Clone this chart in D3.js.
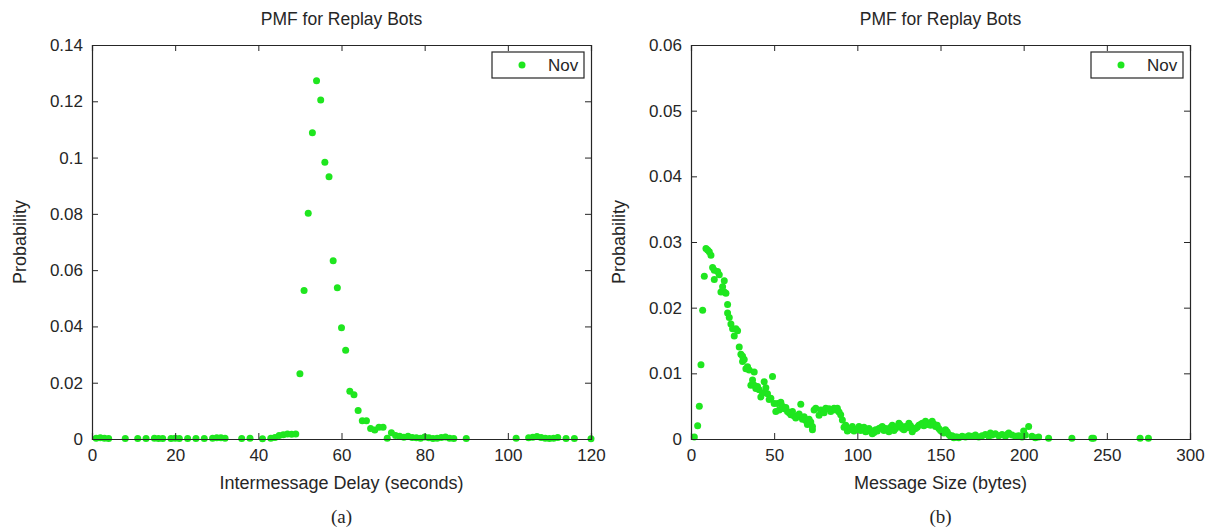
<!DOCTYPE html>
<html>
<head>
<meta charset="utf-8">
<script src="https://cdn.jsdelivr.net/npm/d3@7"></script>
<style>
  html, body { margin: 0; padding: 0; background: #fff; }
  svg { display: block; }
  text { fill: #262626; }
</style>
</head>
<body>
<svg id="chart" width="1210" height="527"></svg>
<script>
// ---- Data: panel (a) ----
const delayX = [1,2,3,4,8,11,13,15,16,17,19,20,21,23,25,27,29,30,31,32,36,38,41,43,44,45,46,47,48,49,
  50,51,52,53,54,55,56,57,58,59,60,61,62,63,64,65,66,67,68,69,70,71,72,73,74,75,76,77,78,79,80,81,82,83,84,85,86,87,90,
  102,105,106,107,108,109,110,111,112,114,116,120];
const delayP = [0.0003,0.0004,0.0003,0.0002,0.0002,0.0002,0.0002,0.0003,0.0002,0.0002,0.0002,0.0003,0.0002,0.0002,0.0002,0.0002,0.0003,0.0004,0.0004,0.0003,0.0002,0.0003,0.0001,0.0003,0.0005,0.0012,0.0015,0.0018,0.0017,0.0018,
  0.0232,0.0528,0.0802,0.1088,0.1273,0.1205,0.0983,0.0932,0.0633,0.0537,0.0395,0.0315,0.0170,0.0157,0.0101,0.0065,0.0065,0.0037,0.0032,0.0042,0.0042,0.0003,0.0022,0.0012,0.0010,0.0006,0.0010,0.0005,0.0004,0.0003,0.0007,0.0004,0.0002,0.0003,0.0005,0.0007,0.0003,0.0002,0.0002,
  0.0003,0.0004,0.0006,0.0009,0.0005,0.0003,0.0002,0.0003,0.0005,0.0002,0.0002,0.0001];
const delayXTicks = [0,20,40,60,80,100,120];
const delayYTicks = [0,0.02,0.04,0.06,0.08,0.1,0.12,0.14];

// ---- Data: panel (b) ----
const sizeX = [2,4,5,6,7,8,9,10,11,12,13,14,14,16,17,18,20,20,21,22,22,24,25,26,27,28,29,30,31,31,32,33,34,35,36,38,38,40,41,42,44,46,47,49,50,51,52,53,54,56,58,60,62,64,66,67,68,69,72,73,73,74,75,78,81,84,86,88,90,91,93,95,97,99,101,103,105,107,109,111,113,115,117,119,121,123,125,127,129,131,133,135,137,139,141,143,145,147,149,151,153,155,157,159,161,163,165,167,169,171,173,175,177,179,181,183,185,187,189,191,193,195,197,199,201,203,205,207,209,215,229,241,242,270,275,
  19,23,37,39,43,45,48,55,57,59,61,63,65,70,71,77,80,83,87,89,92,94,96,98,100,102,104,106,108,110,112,114,116,118,120,122,124,126,128,130,132,134,136,138,140,142,144,146,148,150,152,154,156,158,160,170,180,190,200];
const sizeP = [0.0003,0.0020,0.0050,0.0113,0.0196,0.0248,0.0290,0.0288,0.0285,0.0280,0.0261,0.0243,0.0257,0.0255,0.0250,0.0224,0.0241,0.0224,0.0222,0.0192,0.0205,0.0175,0.0168,0.0157,0.0168,0.0165,0.0140,0.0129,0.0118,0.0126,0.0121,0.0107,0.0110,0.0105,0.0082,0.0102,0.0082,0.0080,0.0075,0.0064,0.0087,0.0069,0.0060,0.0095,0.0054,0.0042,0.0054,0.0044,0.0056,0.0046,0.0042,0.0037,0.0035,0.0035,0.0053,0.0030,0.0034,0.0028,0.0026,0.0014,0.0019,0.0044,0.0047,0.0044,0.0047,0.0042,0.0047,0.0047,0.0037,0.0029,0.0021,0.0014,0.0019,0.0014,0.0019,0.0016,0.0011,0.0016,0.0008,0.0014,0.0016,0.0019,0.0016,0.0011,0.0021,0.0016,0.0024,0.0016,0.0019,0.0024,0.0011,0.0016,0.0021,0.0024,0.0027,0.0024,0.0027,0.0019,0.0016,0.0011,0.0014,0.0007,0.0005,0.0003,0.0002,0.0004,0.0003,0.0005,0.0004,0.0006,0.0003,0.0005,0.0007,0.0004,0.0006,0.0008,0.0005,0.0007,0.0004,0.0009,0.0006,0.0004,0.0005,0.0003,0.0006,0.0019,0.0004,0.0002,0.0003,0.0001,0.0001,0.0001,0.0001,0.0001,0.0001,
  0.0232,0.0185,0.0090,0.0077,0.0070,0.0078,0.0062,0.0050,0.0048,0.0040,0.0042,0.0032,0.0038,0.0022,0.0030,0.0036,0.0040,0.0046,0.0044,0.0041,0.0018,0.0012,0.0016,0.0012,0.0015,0.0013,0.0018,0.0012,0.0013,0.0010,0.0012,0.0017,0.0013,0.0015,0.0018,0.0013,0.0019,0.0021,0.0014,0.0017,0.0020,0.0015,0.0018,0.0022,0.0020,0.0022,0.0021,0.0023,0.0021,0.0013,0.0009,0.0011,0.0004,0.0002,0.0003,0.0004,0.0009,0.0007,0.0012];
const sizeXTicks = [0,50,100,150,200,250,300];
const sizeYTicks = [0,0.01,0.02,0.03,0.04,0.05,0.06];

const titleText = "PMF for Replay Bots";
const legendLabel = "Nov";

const svg = d3.select("#chart");
const GREEN = "#1fe61f";
const AXIS = "#262626";
const SANS = '"Liberation Sans", Arial, sans-serif';
const SERIF = '"Liberation Serif", "Times New Roman", serif';

function panel(opts) {
  const {left, right, top, bottom, xs, ys, xDomain, yDomain, xTicks, yTicks, xLabel, caption} = opts;
  const x = d3.scaleLinear().domain(xDomain).range([left, right]);
  const y = d3.scaleLinear().domain(yDomain).range([bottom, top]);
  const g = svg.append("g");
  const fmt = d => d === 0 ? "0" : String(+d.toFixed(4));
  const tl = 6;

  g.append("g").selectAll("circle").data(xs.map((d,i)=>[d, ys[i]])).join("circle")
    .attr("cx", d => x(d[0])).attr("cy", d => y(d[1])).attr("r", 3.5).attr("fill", GREEN);

  const bx = g.append("g").attr("transform", `translate(0,${bottom})`)
    .call(d3.axisBottom(x).tickValues(xTicks).tickSize(-tl).tickPadding(10).tickFormat(fmt));
  const tx = g.append("g").attr("transform", `translate(0,${top})`)
    .call(d3.axisTop(x).tickValues(xTicks).tickSize(-tl).tickFormat(""));
  const ly = g.append("g").attr("transform", `translate(${left},0)`)
    .call(d3.axisLeft(y).tickValues(yTicks).tickSize(-tl).tickPadding(9).tickFormat(fmt));
  const ry = g.append("g").attr("transform", `translate(${right},0)`)
    .call(d3.axisRight(y).tickValues(yTicks).tickSize(-tl).tickFormat(""));
  [bx, tx, ly, ry].forEach(a => {
    a.selectAll("path.domain").attr("stroke", AXIS).attr("stroke-width", 1.2);
    a.selectAll(".tick line").attr("stroke", AXIS).attr("stroke-width", 1);
    a.selectAll(".tick text").attr("font-size", 17).attr("font-family", SANS).attr("fill", AXIS);
  });
  g.append("text").attr("x", (left+right)/2).attr("y", 25).attr("text-anchor", "middle")
    .attr("font-family", SANS).attr("font-size", 17.5).text(titleText);
  g.append("text").attr("x", (left+right)/2).attr("y", 489).attr("text-anchor", "middle")
    .attr("font-family", SANS).attr("font-size", 18).text(xLabel);
  g.append("text").attr("transform", `translate(${left-66},${(top+bottom)/2}) rotate(-90)`)
    .attr("text-anchor", "middle").attr("font-family", SANS).attr("font-size", 18).text("Probability");
  g.append("text").attr("x", (left+right)/2).attr("y", 523).attr("text-anchor", "middle")
    .attr("font-family", SERIF).attr("font-size", 19).text(caption);

  const lw = 92, lh = 26, lx = right - 7 - lw, lyy = top + 7;
  const lg = g.append("g");
  lg.append("rect").attr("x", lx).attr("y", lyy).attr("width", lw).attr("height", lh)
    .attr("fill", "#fff").attr("stroke", AXIS).attr("stroke-width", 1.2);
  lg.append("circle").attr("cx", lx + 30).attr("cy", lyy + lh/2).attr("r", 3.5).attr("fill", GREEN);
  lg.append("text").attr("x", lx + 56).attr("y", lyy + lh/2 + 6).attr("font-family", SANS)
    .attr("font-size", 17).text(legendLabel);
}

panel({left: 92, right: 591, top: 45, bottom: 439, xs: delayX, ys: delayP,
  xDomain: [0,120], yDomain: [0,0.14], xTicks: delayXTicks, yTicks: delayYTicks,
  xLabel: "Intermessage Delay (seconds)", caption: "(a)"});
panel({left: 691, right: 1190, top: 45, bottom: 439, xs: sizeX, ys: sizeP,
  xDomain: [0,300], yDomain: [0,0.06], xTicks: sizeXTicks, yTicks: sizeYTicks,
  xLabel: "Message Size (bytes)", caption: "(b)"});
</script>
</body>
</html>
